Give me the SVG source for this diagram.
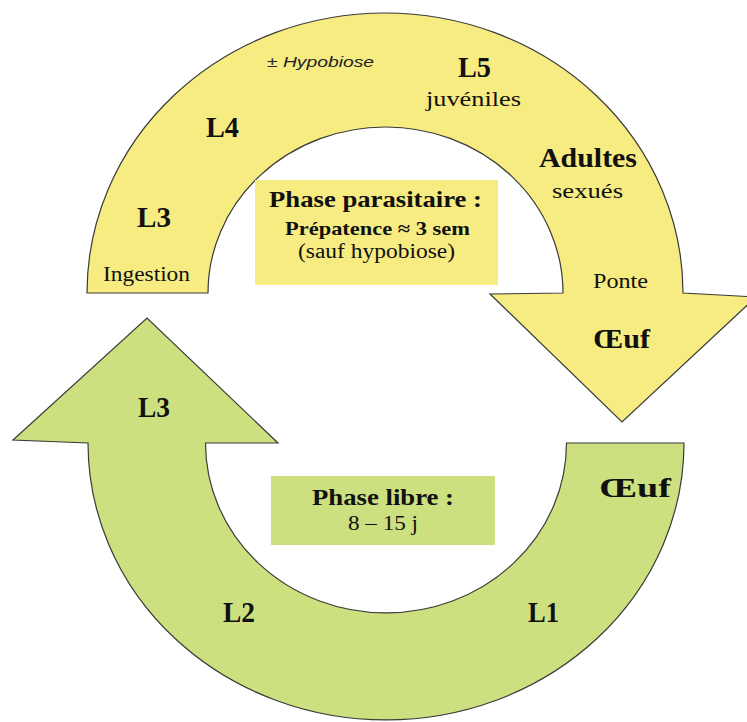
<svg xmlns="http://www.w3.org/2000/svg" width="747" height="722" viewBox="0 0 747 722">
  <style>
    .shape { stroke: #3a3a3a; stroke-width: 1.2; stroke-linejoin: miter; }
    .yel { fill: #F6EC82; }
    .grn { fill: #CCE07F; }
    .t { font-family: 'Liberation Serif', Tinos, 'Times New Roman', Times, serif; fill: #111; text-anchor: middle; }
    .b { font-weight: bold; }
    .it { font-family: 'Liberation Sans', Arimo, Arial, sans-serif; font-style: italic; fill: #222; }
  </style>
  <rect width="747" height="722" fill="#ffffff"/>
  <g id="connectors">
    <path id="arrow-parasitic" class="shape yel" d="M 87 293 A 298 280 0 0 1 683 293 L 756 297 L 622 422 L 490 294 L 563 293 A 177.5 166 0 0 0 208 293 Z"/>
    <path id="arrow-free" class="shape grn" d="M 684 443 A 298 277 0 0 1 88 443 L 13 440 L 147 318 L 278 443 L 205.5 443 A 180.5 170 0 0 0 566.5 443 Z"/>
  </g>
  <g id="box-parasitic">
    <rect x="255" y="180" width="243" height="105" class="yel"/>
    <text x="375.5" y="207" font-size="23" class="t b" textLength="213" lengthAdjust="spacingAndGlyphs">Phase parasitaire :</text>
    <text x="377.5" y="235" font-size="19" class="t b" textLength="185" lengthAdjust="spacingAndGlyphs">Prépatence ≈ 3 sem</text>
    <text x="376.5" y="258" font-size="20" class="t" textLength="157" lengthAdjust="spacingAndGlyphs">(sauf hypobiose)</text>
  </g>
  <g id="box-free">
    <rect x="271" y="476" width="224" height="69" class="grn"/>
    <text x="383" y="505" font-size="24" class="t b" textLength="142" lengthAdjust="spacingAndGlyphs">Phase libre :</text>
    <text x="383" y="530" font-size="20" class="t" textLength="70" lengthAdjust="spacingAndGlyphs">8 – 15 j</text>
  </g>
  <g id="label-hypobiose"><text x="267" y="67" font-size="15" class="it" textLength="107" lengthAdjust="spacingAndGlyphs">± Hypobiose</text></g>
  <g id="label-L5">
    <text x="474.5" y="77" font-size="30" class="t b" textLength="33" lengthAdjust="spacingAndGlyphs">L5</text>
    <text x="473.5" y="106" font-size="22" class="t" textLength="95" lengthAdjust="spacingAndGlyphs">juvéniles</text>
  </g>
  <g id="label-L4"><text x="222.5" y="137" font-size="30" class="t b" textLength="33" lengthAdjust="spacingAndGlyphs">L4</text></g>
  <g id="label-adultes">
    <text x="588" y="167" font-size="28" class="t b" textLength="98" lengthAdjust="spacingAndGlyphs">Adultes</text>
    <text x="587.5" y="198" font-size="22" class="t" textLength="71" lengthAdjust="spacingAndGlyphs">sexués</text>
  </g>
  <g id="label-L3-top">
    <text x="154" y="227" font-size="30" class="t b" textLength="34" lengthAdjust="spacingAndGlyphs">L3</text>
    <text x="146.5" y="281" font-size="21" class="t" textLength="87" lengthAdjust="spacingAndGlyphs">Ingestion</text>
  </g>
  <g id="label-oeuf-top">
    <text x="620.5" y="288" font-size="20" class="t" textLength="55" lengthAdjust="spacingAndGlyphs">Ponte</text>
    <text x="621.5" y="348" font-size="27" class="t b" textLength="57" lengthAdjust="spacingAndGlyphs">Œuf</text>
  </g>
  <g id="label-L3-bottom"><text x="154" y="417" font-size="30" class="t b" textLength="32" lengthAdjust="spacingAndGlyphs">L3</text></g>
  <g id="label-oeuf-bottom"><text x="635" y="497" font-size="27" class="t b" textLength="72" lengthAdjust="spacingAndGlyphs">Œuf</text></g>
  <g id="label-L2"><text x="239" y="622" font-size="30" class="t b" textLength="32" lengthAdjust="spacingAndGlyphs">L2</text></g>
  <g id="label-L1"><text x="543.5" y="622" font-size="30" class="t b" textLength="31" lengthAdjust="spacingAndGlyphs">L1</text></g>
</svg>
